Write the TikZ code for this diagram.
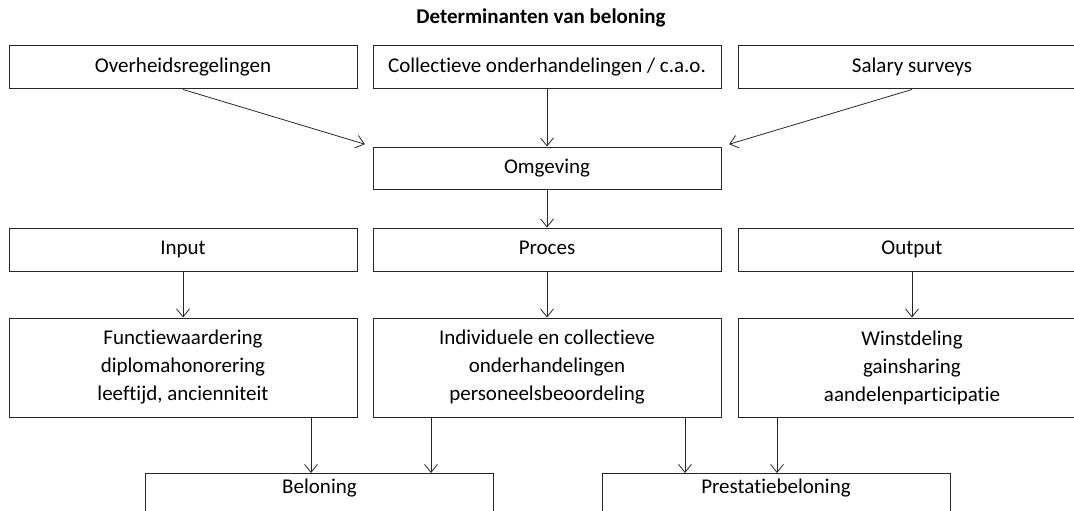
\documentclass[tikz,border=0pt]{standalone}
\usepackage{fontspec}
\setmainfont{Carlito}[Ligatures=NoCommon]
\usetikzlibrary{arrows.meta}
\tikzset{
  blok/.style={draw=black!85, line width=1pt, minimum width=348pt, minimum height=43pt, inner sep=0pt, text height=14pt, text depth=4pt},
  lijst/.style={draw=black!85, line width=1pt, minimum width=348pt, minimum height=99pt, inner sep=0pt, align=center, font=\fontsize{21}{28}\selectfont},
  eind/.style={draw=black!85, line width=1pt, minimum width=348pt, anchor=north, text height=14pt, text depth=60pt, inner ysep=6pt},
  pijl/.style={->, draw=black!85, line width=0.8pt}
}
\begin{document}
\begin{tikzpicture}[x=1pt, y=-1pt, >={Straight Barb[length=8pt,width=13pt]}, font=\fontsize{21}{24}\selectfont]
            \useasboundingbox (0,0) rectangle (1074,511);
            \clip (0,0) rectangle (1074,511);
            \node[font=\fontsize{21}{24}\selectfont\bfseries] (titel) at (541,18) {Determinanten van beloning};
            % bovenste rij
            \node[blok] (ovh) at (183,67.5) {Overheidsregelingen};
            \node[blok] (cao) at (547,67.5) {Collectieve onderhandelingen / c.a.o.};
            \node[blok] (sal) at (912,67.5) {Salary surveys};
            \node[blok, minimum height=42pt] (omg) at (547,168) {Omgeving};
            % input, proces, output
            \node[blok] (inp) at (183,249.5) {Input};
            \node[blok] (pro) at (547,249.5) {Proces};
            \node[blok] (out) at (912,249.5) {Output};
            \node[lijst] (fw) at (183,367.5) {Functiewaardering\\diplomahonorering\\leeftijd, ancienniteit};
            \node[lijst] (ind) at (547,367.5) {Individuele en collectieve\\onderhandelingen\\personeelsbeoordeling};
            \node[lijst] (win) at (912,367.5) {Winstdeling\\gainsharing\\aandelenparticipatie};
            \node[eind] (bel) at (319.5,473) {Beloning};
            \node[eind] (pres) at (776,473) {Prestatiebeloning};
            % pijlen
            \draw[pijl, shorten >=8pt] (ovh.south) -- (omg.north west);
            \draw[pijl] (cao) -- (omg);
            \draw[pijl, shorten >=8pt] (sal.south) -- (omg.north east);
            \draw[pijl] (omg) -- (pro);
            \draw[pijl] (inp) -- (fw);
            \draw[pijl] (pro) -- (ind);
            \draw[pijl] (out) -- (win);
            \draw[pijl] ([xshift=128pt]fw.south) -- ([xshift=128pt]fw.south |- bel.north);
            \draw[pijl] ([xshift=-116pt]ind.south) -- ([xshift=-116pt]ind.south |- bel.north);
            \draw[pijl] ([xshift=138pt]ind.south) -- ([xshift=138pt]ind.south |- pres.north);
            \draw[pijl] ([xshift=-135pt]win.south) -- ([xshift=-135pt]win.south |- pres.north);
        \end{tikzpicture}
\end{document}
